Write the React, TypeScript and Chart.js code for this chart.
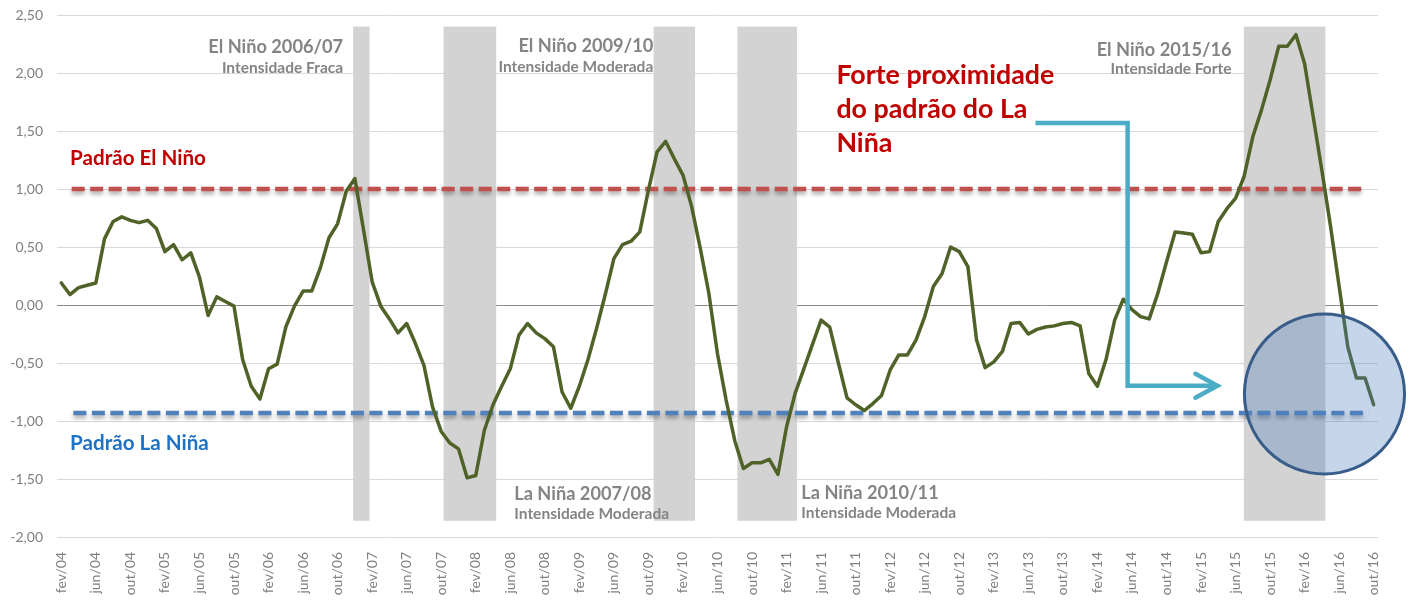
import React, { useEffect, useRef } from "react";
import { Chart, registerables } from "chart.js";

Chart.register(...registerables);

// ---------- DATA ----------
const monthNames = ["jan", "fev", "mar", "abr", "mai", "jun", "jul", "ago", "set", "out", "nov", "dez"];
const firstYear = 2004;
const firstMonth = 1; // fev
const monthCount = 153; // fev/04 .. out/16
const categories: string[] = Array.from({ length: monthCount }, (_, i) => {
  const m = (firstMonth + i) % 12;
  const y = firstYear + Math.floor((firstMonth + i) / 12);
  return `${monthNames[m]}/${String(y).slice(2)}`;
});

const oniValues: number[] = [
  0.19, 0.09, 0.15, 0.17, 0.19, 0.57, 0.72, 0.76, 0.73, 0.71, 0.73, 0.66,
  0.46, 0.52, 0.39, 0.45, 0.24, -0.09, 0.07, 0.03, -0.01, -0.47, -0.70, -0.81,
  -0.55, -0.51, -0.19, -0.01, 0.12, 0.12, 0.32, 0.58, 0.70, 0.98, 1.09, 0.65,
  0.20, -0.01, -0.12, -0.24, -0.16, -0.33, -0.52, -0.88, -1.09, -1.19, -1.24, -1.49,
  -1.47, -1.08, -0.86, -0.70, -0.55, -0.26, -0.16, -0.24, -0.29, -0.36, -0.75, -0.89,
  -0.70, -0.47, -0.20, 0.09, 0.40, 0.52, 0.55, 0.63, 0.99, 1.32, 1.41, 1.26,
  1.12, 0.85, 0.49, 0.10, -0.42, -0.82, -1.17, -1.41, -1.36, -1.36, -1.33, -1.46,
  -1.05, -0.76, -0.55, -0.34, -0.13, -0.19, -0.50, -0.80, -0.86, -0.91, -0.85, -0.78,
  -0.56, -0.43, -0.43, -0.30, -0.10, 0.16, 0.27, 0.50, 0.46, 0.33, -0.30, -0.54,
  -0.49, -0.40, -0.16, -0.15, -0.25, -0.21, -0.19, -0.18, -0.16, -0.15, -0.18, -0.59,
  -0.70, -0.47, -0.13, 0.05, -0.04, -0.10, -0.12, 0.10, 0.37, 0.63, 0.62, 0.61,
  0.45, 0.46, 0.72, 0.83, 0.92, 1.11, 1.45, 1.68, 1.94, 2.23, 2.23, 2.33,
  2.08, 1.62, 1.16, 0.68, 0.16, -0.36, -0.63, -0.63, -0.86,
];

const yMin = -2;
const yMax = 2.5;
const yStep = 0.5;

const elNinoLevel = 1.0;
const laNinaLevel = -0.93;

// event bands: [start index, end index] in month units
const eventBands: [number, number][] = [
  [33.8, 35.7],
  [44.27, 50.37],
  [68.6, 73.4],
  [78.3, 85.2],
  [136.96, 146.4],
];
const bandTop = 2.4;
const bandBottom = -1.86;

// text annotations: [text, index, value, align]
const eventTitles: [string, number, number, CanvasTextAlign][] = [
  ["El Niño 2006/07", 32.64, 2.172, "right"],
  ["El Niño 2009/10", 68.56, 2.181, "right"],
  ["El Niño 2015/16", 135.54, 2.149, "right"],
  ["La Niña 2007/08", 52.46, -1.681, "left"],
  ["La Niña 2010/11", 85.71, -1.672, "left"],
];
const eventSubtitles: [string, number, number, CanvasTextAlign][] = [
  ["Intensidade Fraca", 32.64, 2.0, "right"],
  ["Intensidade Moderada", 68.56, 2.009, "right"],
  ["Intensidade Forte", 135.54, 1.989, "right"],
  ["Intensidade Moderada", 52.46, -1.845, "left"],
  ["Intensidade Moderada", 85.71, -1.836, "left"],
];
const calloutLines = ["Forte proximidade", "do padrão do La", "Niña"];
const calloutValues = [1.905, 1.612, 1.319];
const calloutIndex = 89.77;

const arrowPath: [number, number][] = [
  [112.83, 1.569],
  [123.5, 1.569],
  [123.5, -0.696],
  [133.9, -0.696],
];
const circleCenter: [number, number] = [146.3, -0.767];
const circleRadiusValue = 0.69;

const FONT = "Lato, 'Open Sans', sans-serif";

function fitSize(ctx: CanvasRenderingContext2D, text: string, width: number, weight: string) {
  ctx.font = `${weight} 100px ${FONT}`;
  const w = ctx.measureText(text).width;
  return (100 * width) / w;
}

const overlayPlugin = {
  id: "overlay",
  beforeDatasetsDraw(chart: any) {
    const { ctx, scales } = chart;
    const x = scales.x;
    const y = scales.y;
    ctx.save();
    ctx.fillStyle = "#d3d3d3";
    const yt = y.getPixelForValue(bandTop);
    const yb = y.getPixelForValue(bandBottom);
    eventBands.forEach(([s, e]) => {
      const x1 = x.getPixelForValue(s);
      const x2 = x.getPixelForValue(e);
      ctx.fillRect(x1, yt, x2 - x1, yb - yt);
    });
    const drawDashed = (val: number, s: number, e: number, color: string) => {
      ctx.save();
      ctx.strokeStyle = color;
      ctx.lineWidth = 4.5;
      ctx.setLineDash([13, 5.5]);
      ctx.shadowColor = "rgba(0,0,0,0.35)";
      ctx.shadowBlur = 4;
      ctx.shadowOffsetY = 3;
      ctx.beginPath();
      const py = y.getPixelForValue(val);
      ctx.moveTo(x.getPixelForValue(s), py);
      ctx.lineTo(x.getPixelForValue(e), py);
      ctx.stroke();
      ctx.restore();
    };
    drawDashed(elNinoLevel, 1.2, 150.9, "#c0504d");
    drawDashed(laNinaLevel, 1.4, 151.4, "#4f81bd");
    ctx.restore();
  },
  afterDatasetsDraw(chart: any) {
    const { ctx, scales } = chart;
    const x = scales.x;
    const y = scales.y;
    ctx.save();
    const cx = x.getPixelForValue(circleCenter[0]);
    const cy = y.getPixelForValue(circleCenter[1]);
    const r = Math.abs(y.getPixelForValue(0) - y.getPixelForValue(circleRadiusValue));
    ctx.beginPath();
    ctx.arc(cx, cy, r, 0, Math.PI * 2);
    ctx.fillStyle = "rgba(79,129,189,0.32)";
    ctx.fill();
    ctx.lineWidth = 3;
    ctx.strokeStyle = "#385d8a";
    ctx.stroke();

    ctx.strokeStyle = "#4bacc6";
    ctx.lineWidth = 4.5;
    ctx.lineJoin = "miter";
    ctx.beginPath();
    arrowPath.forEach(([i, v], k) => {
      const px = x.getPixelForValue(i);
      const py = y.getPixelForValue(v);
      if (k === 0) ctx.moveTo(px, py);
      else ctx.lineTo(px, py);
    });
    ctx.stroke();
    const tip = arrowPath[arrowPath.length - 1];
    const tx = x.getPixelForValue(tip[0]);
    const ty = y.getPixelForValue(tip[1]);
    ctx.lineCap = "round";
    ctx.beginPath();
    ctx.moveTo(tx - 22, ty - 12);
    ctx.lineTo(tx, ty);
    ctx.lineTo(tx - 22, ty + 12);
    ctx.stroke();

    const titleSize = fitSize(ctx, "El Niño 2015/16", 135, "bold");
    const subSize = fitSize(ctx, "Intensidade Forte", 121, "bold");
    ctx.textBaseline = "alphabetic";
    ctx.fillStyle = "#848484";
    eventTitles.forEach(([t, i, v, a]) => {
      ctx.font = `bold ${titleSize}px ${FONT}`;
      ctx.textAlign = a;
      ctx.fillText(t, x.getPixelForValue(i), y.getPixelForValue(v));
    });
    eventSubtitles.forEach(([t, i, v, a]) => {
      ctx.font = `bold ${subSize}px ${FONT}`;
      ctx.textAlign = a;
      ctx.fillText(t, x.getPixelForValue(i), y.getPixelForValue(v));
    });

    const padSize = fitSize(ctx, "Padrão El Niño", 136, "bold");
    ctx.textAlign = "left";
    ctx.font = `bold ${padSize}px ${FONT}`;
    ctx.fillStyle = "#c00000";
    ctx.fillText("Padrão El Niño", x.getPixelForValue(1.01), y.getPixelForValue(1.207));
    ctx.fillStyle = "#1f72c4";
    ctx.fillText("Padrão La Niña", x.getPixelForValue(1.01), y.getPixelForValue(-1.25));

    const calloutSize = fitSize(ctx, calloutLines[0], 218, "bold");
    ctx.font = `bold ${calloutSize}px ${FONT}`;
    ctx.fillStyle = "#c00000";
    calloutLines.forEach((t, k) => {
      ctx.fillText(t, x.getPixelForValue(calloutIndex), y.getPixelForValue(calloutValues[k]));
    });
    ctx.restore();
  },
};

export default function App() {
  const ref = useRef<HTMLCanvasElement | null>(null);
  useEffect(() => {
    if (!ref.current) return;
    const chart = new Chart(ref.current, {
      type: "line",
      data: {
        labels: categories,
        datasets: [
          {
            label: "ONI",
            data: oniValues,
            borderColor: "#4f6228",
            borderWidth: 3.5,
            pointRadius: 0,
            tension: 0,
            fill: false,
            borderJoinStyle: "round",
            borderCapStyle: "round",
          },
        ],
      },
      options: {
        responsive: false,
        animation: false,
        devicePixelRatio: 1,
        layout: { padding: { top: 15, right: 32, left: 0, bottom: 0 } },
        plugins: { legend: { display: false }, tooltip: { enabled: false } },
        scales: {
          x: {
            offset: true,
            grid: { display: false },
            border: { display: false },
            ticks: {
              autoSkip: false,
              minRotation: 90,
              maxRotation: 90,
              padding: 7,
              color: "#808080",
              font: { family: FONT, size: 14 },
              callback: (_v: any, i: number) => (i % 4 === 0 ? categories[i] : ""),
            },
            afterFit: (s: any) => {
              s.height = 64;
              s.paddingTop = 0;
              s.paddingBottom = 0;
              s.paddingLeft = 0;
              s.paddingRight = 0;
            },
          },
          y: {
            min: yMin,
            max: yMax,
            ticks: {
              stepSize: yStep,
              padding: 14,
              color: "#808080",
              font: { family: FONT, size: 14 },
              callback: (v: any) => Number(v).toFixed(2).replace(".", ","),
            },
            grid: {
              drawTicks: false,
              color: (c: any) => (c.tick && c.tick.value === 0 ? "#8c8c8c" : "#d9d9d9"),
            },
            border: { display: false },
            afterFit: (s: any) => {
              s.width = 57;
              s.paddingTop = 0;
              s.paddingBottom = 0;
            },
          },
        },
      },
      plugins: [overlayPlugin],
    });
    return () => chart.destroy();
  }, []);
  return (
    <div style={{ position: "fixed", left: 0, top: 0, width: 1410, height: 601, background: "#fff" }}>
      <canvas ref={ref} width={1410} height={601} style={{ display: "block" }} />
    </div>
  );
}
